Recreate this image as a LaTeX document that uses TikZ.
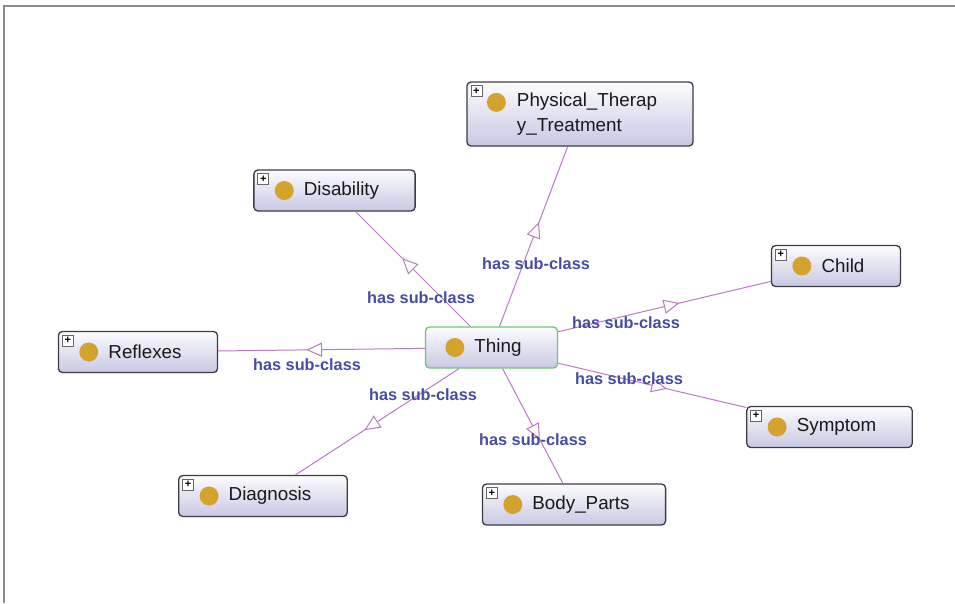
\documentclass[tikz,border=0pt]{standalone}
\usepackage{fontspec}
\setmainfont{Liberation Sans}
\usetikzlibrary{decorations.markings}

\definecolor{edgec}{RGB}{184,122,196}
\definecolor{lblc}{RGB}{70,76,164}
\definecolor{boxtop}{RGB}{252,252,254}
\definecolor{boxbot}{RGB}{200,200,228}
\definecolor{boxline}{RGB}{60,60,70}
\definecolor{thingline}{RGB}{110,200,110}
\definecolor{gold}{RGB}{214,162,46}
\definecolor{framec}{RGB}{140,140,140}

\tikzset{
  cls/.style={draw=boxline, line width=1.3pt, rounded corners=4pt,
    top color=boxtop, bottom color=boxbot, inner xsep=36pt, inner ysep=0pt,
    minimum height=41pt, font=\fontsize{18.8}{25}\selectfont,
    text=black!90, align=left},
  rootcls/.style={cls, draw=thingline},
  subedge/.style={draw=edgec, line width=1pt, postaction={decorate},
    decoration={markings, mark=at position 0.5 with
      {\draw[edgec, fill=white, line width=1pt, line join=miter]
         (14pt,0pt) -- (0pt,6.5pt) -- (0pt,-6.5pt) -- cycle;}}},
  lbl/.style={text=lblc, font=\fontsize{16.3}{18}\selectfont\bfseries, inner sep=0pt},
  dot/.style={circle, fill=gold, minimum size=19pt, inner sep=0pt},
  expander/.style={draw=gray!80!black, fill=white, line width=0.6pt,
    minimum size=11pt, inner sep=0pt, font=\fontsize{11}{11}\selectfont\bfseries}
}

% class icon and expand box at the left of a class box
\newcommand\classmarks[1]{%
  \node[dot] (#1-dot) at ([xshift=31pt]#1.west) {};
  \node[expander] (#1-plus) at ([xshift=10pt,yshift=-9.5pt]#1.north west) {+};
}

\begin{document}
\begin{tikzpicture}[x=1pt, y=-1pt]
  \useasboundingbox (0,0) rectangle (955,603);
  \draw[framec, line width=1.2pt] (4,603) -- (4,6) -- (955,6);

  % classes
  \node[rootcls] (thing) at (491.5,347.5) {\hspace*{13pt}Thing};
  \node[dot] (thing-dot) at ([xshift=30pt]thing.west) {};

  \node[cls, minimum height=64pt] (phys) at (580,114)
    {\hspace*{14pt}Physical\_Therap\\\hspace*{14pt}y\_Treatment};
  \node[dot] (phys-dot) at ([xshift=30pt,yshift=-21pt]phys.north west) {};
  \node[expander] (phys-plus) at ([xshift=10pt,yshift=-9.5pt]phys.north west) {+};

  \node[cls] (dis)   at (334.5,190.5) {\hspace*{14pt}Disability};
  \node[cls] (child) at (836,266)     {\hspace*{14pt}Child};
  \node[cls] (refl)  at (138,352)     {\hspace*{14pt}Reflexes};
  \node[cls] (symp)  at (829.5,427)   {\hspace*{14pt}Symptom};
  \node[cls] (diag)  at (263,496)     {\hspace*{14pt}Diagnosis};
  \node[cls] (body)  at (574,504.5)   {\hspace*{14pt}Body\_Parts};
  \classmarks{dis}
  \classmarks{child}
  \classmarks{refl}
  \classmarks{symp}
  \classmarks{diag}
  \classmarks{body}

  % subclass links
  \draw[subedge] (thing) -- (dis);
  \draw[subedge] (thing) -- (phys);
  \draw[subedge] (thing) -- (child);
  \draw[subedge] (thing) -- (refl);
  \draw[subedge] (thing) -- (symp);
  \draw[subedge] (thing) -- (diag);
  \draw[subedge] (thing) -- (body);

  % link labels
  \node[lbl] (l-dis)   at (421,298) {has sub-class};
  \node[lbl] (l-phys)  at (536,264) {has sub-class};
  \node[lbl] (l-child) at (626,323) {has sub-class};
  \node[lbl] (l-refl)  at (307,365) {has sub-class};
  \node[lbl] (l-symp)  at (629,379) {has sub-class};
  \node[lbl] (l-diag)  at (423,395) {has sub-class};
  \node[lbl] (l-body)  at (533,440) {has sub-class};
\end{tikzpicture}
\end{document}
